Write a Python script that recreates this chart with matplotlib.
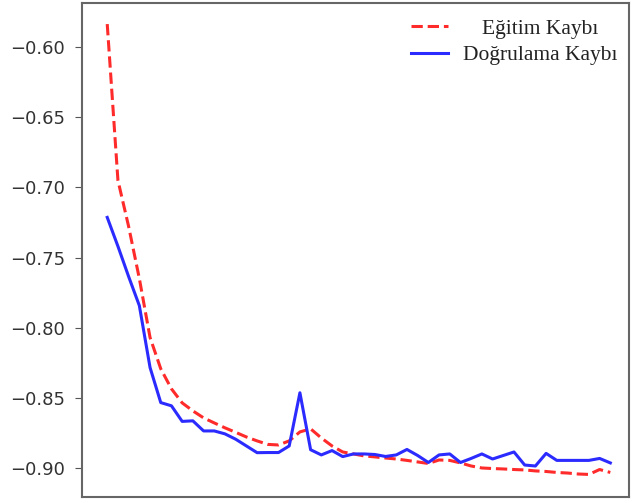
import matplotlib
matplotlib.use("Agg")
import matplotlib.pyplot as plt
from matplotlib import transforms

# loss per epoch
epochs = list(range(48))

train_loss = [-0.5836, -0.6950, -0.7279, -0.7650, -0.8070, -0.8293, -0.8436, -0.8536,
              -0.8593, -0.8643, -0.8679, -0.8714, -0.8746, -0.8779, -0.8807, -0.8832,
              -0.8836, -0.8807, -0.8743, -0.8721, -0.8786, -0.8843, -0.8886, -0.8900,
              -0.8914, -0.8921, -0.8929, -0.8936, -0.8946, -0.8957, -0.8968, -0.8943,
              -0.8946, -0.8964, -0.8986, -0.9000, -0.9004, -0.9007, -0.9011, -0.9014,
              -0.9021, -0.9025, -0.9032, -0.9036, -0.9043, -0.9046, -0.9011, -0.9032]

val_loss = [-0.7214, -0.7420, -0.7636, -0.7843, -0.8284, -0.8534, -0.8557, -0.8668,
            -0.8664, -0.8736, -0.8736, -0.8757, -0.8795, -0.8843, -0.8891, -0.8890,
            -0.8890, -0.8843, -0.8464, -0.8870, -0.8907, -0.8876, -0.8919, -0.8900,
            -0.8900, -0.8904, -0.8918, -0.8907, -0.8868, -0.8911, -0.8961, -0.8907,
            -0.8900, -0.8961, -0.8932, -0.8900, -0.8936, -0.8911, -0.8886, -0.8979,
            -0.8986, -0.8896, -0.8946, -0.8946, -0.8946, -0.8946, -0.8932, -0.8964]

labels = ["Eğitim Kaybı", "Doğrulama Kaybı"]
yticks = [-0.90, -0.85, -0.80, -0.75, -0.70, -0.65, -0.60]

fig = plt.figure(figsize=(6.32, 5.03), dpi=100)
ax = fig.add_axes([0.1297, 0.0119, 0.8648, 0.9821])

ax.plot(epochs, train_loss, "--", color="#ff2b2b", lw=2.2, label=labels[0])
ax.plot(epochs, val_loss, "-", color="#2b2bff", lw=2.2, label=labels[1])

ax.set_xlim(-2.36, 48.7)
ax.set_ylim(-0.9207, -0.5686)
ax.set_yticks(yticks)
ax.set_yticklabels([f"\u2212{abs(v):.2f}" for v in yticks])
ax.set_xticks([])
ax.tick_params(axis="y", labelsize=13, labelcolor="#333333", color="#555555",
               length=5, pad=7)
for s in ax.spines.values():
    s.set_color("#666666")
    s.set_linewidth(1.5)

leg = ax.legend(loc="upper right", bbox_to_anchor=(1.0, 0.99), frameon=False,
                prop={"family": "Liberation Serif", "size": 15.5},
                handlelength=1.75, handletextpad=0.7, labelspacing=0.3,
                borderaxespad=0.1, borderpad=0.4)
for t in leg.get_texts():
    t.set_color("#222222")

# center the legend labels in their column like the reference
fig.canvas.draw()
r = fig.canvas.get_renderer()
ws = [t.get_window_extent(r).width for t in leg.get_texts()]
for t, w in zip(leg.get_texts(), ws):
    t.set_transform(t.get_transform() + transforms.Affine2D().translate((max(ws) - w) / 2, 0))

fig.savefig("out.png", dpi=100)
